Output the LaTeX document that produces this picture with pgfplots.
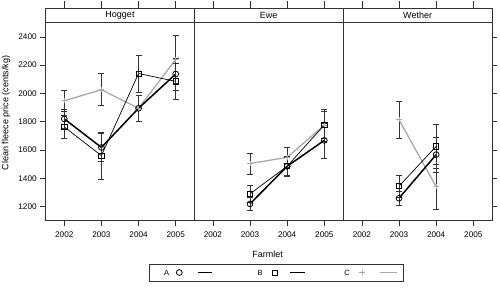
\documentclass[border=0pt]{standalone}
\usepackage{fontspec}
\setmainfont{Liberation Sans}
\usepackage{pgfplots}
\pgfplotsset{compat=1.18}
\usepackage{pgfplotstable}
\definecolor{cgray}{rgb}{0.66,0.66,0.66}
\definecolor{frame}{rgb}{0.2,0.2,0.2}

% x: 0=2002, 1=2003, 2=2004, 3=2005
% Hogget
\pgfplotstableread{
x y e
0 1820 70
1 1618 100
2 1895 90
3 2137 113
}\HA
\pgfplotstableread{
x y e
0 1763 80
1 1560 165
2 2141 130
3 2085 130
}\HB
\pgfplotstableread{
x y e
0 1948 75
1 2026 113
2 1895 92
3 2240 170
}\HC
% Ewe
\pgfplotstableread{
x y e
1 1219 45
2 1485 66
3 1668 124
}\EA
\pgfplotstableread{
x y e
1 1290 58
2 1485 70
3 1777 113
}\EB
\pgfplotstableread{
x y e
1 1504 75
2 1548 73
3 1775 95
}\EC
% Wether
\pgfplotstableread{
x y e
1 1259 47
2 1567 125
}\WA
\pgfplotstableread{
x y e
1 1344 80
2 1626 158
}\WB
\pgfplotstableread{
x y e
1 1814 130
2 1340 160
}\WC

\pgfplotsset{
  panel/.style={
    scale only axis, width=148.6pt, height=198pt,
    xmin=-0.5, xmax=3.5, ymin=1100, ymax=2500,
    xtick={0,1,2,3}, xticklabels={2002,2003,2004,2005},
    ytick={1200,1400,...,2400},
    /pgf/number format/assume math mode=true,
    /pgf/number format/set thousands separator={},
    tick align=outside, major tick length=5.5pt,
    xtick pos=lower,
    tick style={frame, line width=0.6pt},
    axis line style={frame, line width=0.6pt},
    clip=false,
    tick label style={font=\fontsize{8.2}{9}\selectfont},
    x tick label style={yshift=-2pt},
    anchor=south west,
  },
  ebars/.style={error bars/.cd, y dir=both, y explicit,
    error bar style={line width=0.6pt, frame},
    error mark options={rotate=90, mark size=3pt, line width=0.6pt, frame}},
  serA/.style={black, line width=1.5pt, mark=o, mark size=2.9pt, mark options={line width=0.8pt, fill=none, solid}},
  serB/.style={black, line width=0.7pt, mark=square, mark size=2.6pt, mark options={line width=0.7pt, fill=none, solid}},
  serC/.style={cgray, line width=1.3pt, mark=+, mark size=2.6pt, mark options={line width=0.6pt}},
}
\newcommand{\strip}[1]{%
  \draw[frame, line width=0.6pt] (rel axis cs:0,1) rectangle ([yshift=14.7pt]rel axis cs:1,1);
  \node[font=\fontsize{9}{10}\selectfont] at ([yshift=7.35pt]rel axis cs:0.5,1) {#1};
  \pgfplotsinvokeforeach{0,1,2,3}{\draw[frame, line width=0.6pt] ([yshift=14.7pt]axis cs:##1,2500) -- ([yshift=21.5pt]axis cs:##1,2500);}
}

\begin{document}
\begin{tikzpicture}[font=\fontsize{9}{10}\selectfont]
\useasboundingbox (0,0) rectangle (500pt,288pt);
% Hogget
\begin{axis}[panel, at={(45.7pt,67.3pt)}, ytick pos=left]
\addplot[serC, ebars] table[x=x,y=y,y error=e] {\HC};
\addplot[serB, ebars] table[x=x,y=y,y error=e] {\HB};
\addplot[serA, ebars] table[x=x,y=y,y error=e] {\HA};
\strip{Hogget}
\node[rotate=90] at (axis description cs:-0.267,0.544) {Clean fleece price (cents/kg)};
\end{axis}
% Ewe
\begin{axis}[panel, at={(194.3pt,67.3pt)}, ytick=\empty]
\addplot[serC, ebars] table[x=x,y=y,y error=e] {\EC};
\addplot[serB, ebars] table[x=x,y=y,y error=e] {\EB};
\addplot[serA, ebars] table[x=x,y=y,y error=e] {\EA};
\strip{Ewe}
\node at (axis description cs:0.493,-0.17) {Farmlet};
\end{axis}
% Wether
\begin{axis}[panel, at={(343.3pt,67.3pt)}, ytick pos=right, yticklabels={}]
\addplot[serC, ebars] table[x=x,y=y,y error=e] {\WC};
\addplot[serB, ebars] table[x=x,y=y,y error=e] {\WB};
\addplot[serA, ebars] table[x=x,y=y,y error=e] {\WA};
\strip{Wether}
\end{axis}
% Legend (key)
\begin{scope}[shift={(0pt,15.5pt)}]
\draw[frame, line width=0.6pt] (149pt,-8.5pt) rectangle (403pt,8.5pt);
\node[font=\fontsize{7.5}{8}\selectfont, inner sep=0pt] at (166.7pt,0pt) {A};
\draw[black, line width=0.8pt] (179.3pt,0pt) circle (2.9pt);
\draw[black, line width=1.5pt] (198pt,0pt) -- (212pt,0pt);
\node[font=\fontsize{7.5}{8}\selectfont, inner sep=0pt] at (260pt,0pt) {B};
\draw[black, line width=0.7pt] (272.4pt,-2.6pt) rectangle (277.6pt,2.6pt);
\draw[black, line width=0.7pt] (290pt,0pt) -- (305pt,0pt);
\node[font=\fontsize{7.5}{8}\selectfont, inner sep=0pt] at (347pt,0pt) {C};
\draw[cgray, line width=0.6pt] (359.4pt,0pt) -- (364.6pt,0pt) (362pt,-2.6pt) -- (362pt,2.6pt);
\draw[cgray, line width=1.3pt] (380pt,0pt) -- (397pt,0pt);
\end{scope}
\end{tikzpicture}
\end{document}
